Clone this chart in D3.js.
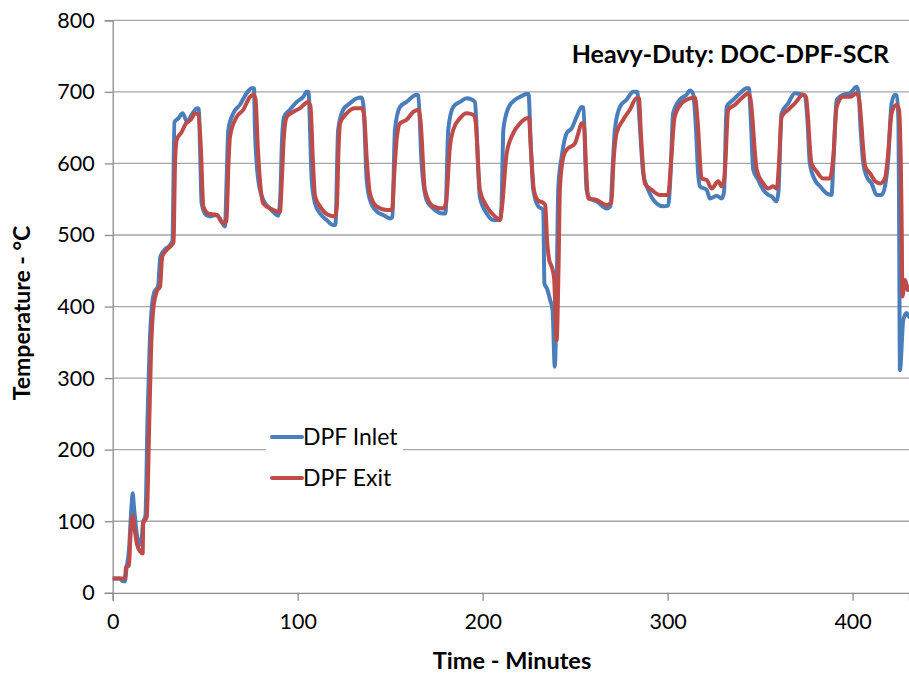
<!DOCTYPE html>
<html>
<head>
<meta charset="utf-8">
<script src="https://cdn.jsdelivr.net/npm/d3@7"></script>
<style>
  body { margin: 0; background: #fff; }
  svg { display: block; }
  text { font-family: Lato, "Open Sans", sans-serif; fill: #000; }
</style>
</head>
<body>
<svg id="chart" width="909" height="675"></svg>
<script>
// DPF inlet temperature trace (minutes, °C)
const inletMinutes = [0,3.9,5.0,6.6,7.5,8.8,9.9,10.8,11.5,12.9,14.4,15.6,16.4,17.7,18.8,19.9,21.0,22.6,24.5,25.8,28.0,31.0,32.3,33.4,35.5,37.8,40.3,42.7,45.7,46.6,47.2,48.1,50.4,52.6,56.2,58.9,60.7,61.6,62.5,65.2,68.8,72.4,75.1,76.4,76.9,78.7,81.4,85.0,87.7,89.5,90.7,91.4,92.6,95.8,99.5,103.0,104.9,105.8,107.6,109.4,112.1,115.7,119.2,120.4,121.9,124.6,128.3,131.9,134.6,135.6,137.3,139.1,142.7,146.3,149.9,151.2,152.6,155.3,158.9,164.3,165.2,167.0,169.7,173.3,178.7,179.9,181.4,184.1,187.7,191.4,194.9,195.8,198.5,202.2,205.7,209.4,210.2,211.2,213.8,217.5,220.2,223.8,224.8,226.1,227.4,230.1,232.8,233.4,234.8,236.5,237.8,239.0,239.9,240.9,242.7,245.4,248.1,250.8,253.5,254.5,256.2,258.0,261.6,267.0,269.1,270.4,271.5,274.2,277.8,281.4,283.6,284.8,286.8,289.5,294.1,297.6,300.3,301.5,303.0,306.6,310.3,312.1,313.7,315.3,316.5,317.5,321.1,322.9,326.5,329.2,330.5,331.9,335.5,339.1,342.7,343.9,345.0,346.3,349.0,351.7,354.4,356.2,358.9,359.9,361.6,365.2,368.8,371.5,374.2,375.6,376.9,379.6,382.4,386.0,388.6,389.6,391.4,394.9,398.6,402.2,403.2,404.3,405.8,407.6,410.3,413.0,415.7,417.5,419.1,421.1,422.9,423.8,424.8,425.2,425.6,427.4,429.2,430.5];
const inletTemps = [20,20,17,16,35,60,110,139,120,85,67,75,98,108,240,340,395,421,428,470,479,486,492,658,663,670,658,668,677,676,623,544,528,526,528,519,512,577,647,670,682,698,705,705,647,577,549,537,530,527,560,623,665,675,686,693,700,700,577,544,530,521,514,514,647,675,684,691,692,680,577,549,533,528,523,525,647,679,686,696,695,600,549,537,530,530,647,679,686,691,688,686,553,530,521,521,540,647,677,689,693,697,697,620,563,540,535,432,425,409,395,316,400,566,609,642,649,665,679,678,563,551,547,537,540,600,647,679,689,700,700,660,586,563,544,540,541,580,670,689,696,702,698,650,586,568,563,551,555,551,560,679,689,698,705,705,660,591,577,563,556,554,547,560,670,684,698,697,695,660,600,577,568,558,556,600,689,696,698,707,700,650,600,582,572,556,556,568,600,684,696,695,660,500,311,381,391,386];

// DPF exit temperature trace (minutes, °C)
const exitMinutes = [0,6.6,7.2,8.8,9.6,10.8,11.8,13.1,14.8,16.2,16.5,18.4,19.8,20.7,21.9,23.8,25.6,26.8,29.2,31.9,32.9,33.7,34.6,37.3,39.6,42.2,44.5,46.3,47.7,49.0,51.7,56.2,59.8,61.5,62.6,63.4,67.0,70.6,74.2,76.0,77.2,78.5,80.2,81.4,86.8,90.4,91.5,92.6,94.1,97.6,101.2,105.7,106.9,108.3,109.4,112.1,116.5,120.2,121.2,122.1,122.9,126.5,131.0,134.6,135.8,137.5,139.1,142.7,148.1,151.0,152.1,153.5,155.3,158.9,162.5,165.2,166.4,168.8,173.3,178.7,180.2,182.3,184.1,187.7,191.4,194.9,196.1,198.5,202.2,206.6,209.4,210.5,213.0,216.5,220.2,222.9,225.0,226.1,227.7,230.0,232.7,233.8,234.9,236.0,237.3,238.2,238.7,240.0,241.0,241.8,243.6,245.4,249.9,251.7,253.5,254.8,255.8,257.1,261.6,267.0,269.6,270.7,272.4,276.0,279.6,283.2,284.5,285.6,287.7,291.4,295.8,300.3,301.8,303.8,307.6,312.1,314.8,316.2,318.4,321.1,323.8,327.4,329.2,330.7,332.8,336.4,340.0,343.6,344.8,348.2,351.7,354.4,357.1,359.1,360.2,361.6,365.2,368.8,373.3,374.8,377.8,380.5,384.1,387.7,389.6,391.4,394.9,398.6,402.2,403.5,406.8,409.5,412.2,414.9,417.5,419.1,421.1,423.8,425.1,426.6,426.9,428.4,429.8,430.5];
const exitTemps = [20,20,36,38,80,108,90,68,58,55,97,106,241,335,395,421,428,470,479,486,490,600,633,644,656,661,670,668,620,540,530,528,516,520,600,637,665,675,693,696,690,620,560,544,535,532,580,640,665,672,677,686,680,600,554,540,528,526,540,620,656,670,677,677,670,600,558,540,535,535,580,633,656,661,672,675,660,563,540,537,545,623,647,663,670,668,660,563,540,526,521,540,614,642,656,662,664,620,563,548,545,542,490,465,456,447,437,353,450,566,609,619,628,642,656,655,600,551,549,542,545,600,642,661,675,691,691,640,572,563,556,556,600,665,684,691,692,660,579,577,565,575,568,580,675,682,691,698,690,591,572,565,568,565,600,665,675,684,696,693,600,589,579,579,610,679,693,693,698,690,596,586,575,572,579,610,670,682,675,500,414,437,423,428];

const seriesNames = ["DPF Inlet", "DPF Exit"];
const seriesColors = ["#4A7EBB", "#BE4B48"];
const yTickValues = [0, 100, 200, 300, 400, 500, 600, 700, 800];
const xTickValues = [0, 100, 200, 300, 400];
const chartTitle = "Heavy-Duty: DOC-DPF-SCR";
const xTitle = "Time - Minutes";
const yTitle = "Temperature - °C";

const svg = d3.select("#chart");
const W = 909, H = 675;
const plotLeft = 112.7, plotTop = 20.3, plotBottom = 592.8, plotRight = W;

const x = d3.scaleLinear().domain([0, 430.5]).range([plotLeft, plotRight]);
const y = d3.scaleLinear().domain([0, 800]).range([plotBottom, plotTop]);

// horizontal gridlines
svg.append("g").selectAll("line").data(yTickValues.filter(v => v > 0)).join("line")
  .attr("x1", plotLeft).attr("x2", plotRight)
  .attr("y1", d => y(d)).attr("y2", d => y(d))
  .attr("stroke", "#a6a6a6").attr("stroke-width", 1.3);

// y axis
const yAxis = svg.append("g").attr("transform", `translate(${plotLeft},0)`)
  .call(d3.axisLeft(y).tickValues(yTickValues).tickSize(8).tickPadding(10).tickFormat(d3.format("d")));
yAxis.select(".domain").attr("stroke", "#8c8c8c").attr("stroke-width", 1.3);
yAxis.selectAll(".tick line").attr("stroke", "#8c8c8c").attr("stroke-width", 1.3);
yAxis.selectAll(".tick text").attr("font-size", 21.5).attr("font-family", "Lato");

// x axis
const xAxis = svg.append("g").attr("transform", `translate(0,${plotBottom})`)
  .call(d3.axisBottom(x).tickValues(xTickValues).tickSize(8).tickPadding(13).tickFormat(d3.format("d")));
xAxis.select(".domain").attr("stroke", "#8c8c8c").attr("stroke-width", 1.3);
xAxis.selectAll(".tick line").attr("stroke", "#8c8c8c").attr("stroke-width", 1.3);
xAxis.selectAll(".tick text").attr("font-size", 21.5).attr("font-family", "Lato");

// temperature traces
const series = [
  { name: seriesNames[0], color: seriesColors[0], pts: inletMinutes.map((m, i) => [m, inletTemps[i]]) },
  { name: seriesNames[1], color: seriesColors[1], pts: exitMinutes.map((m, i) => [m, exitTemps[i]]) }
];
svg.append("clipPath").attr("id", "plotClip").append("rect")
  .attr("x", plotLeft).attr("y", 0).attr("width", plotRight - plotLeft).attr("height", plotBottom + 2);
const line = d3.line().x(d => x(d[0])).y(d => y(d[1])).curve(d3.curveMonotoneX);
svg.append("g").attr("clip-path", "url(#plotClip)").selectAll("path").data(series).join("path")
  .attr("d", d => line(d.pts))
  .attr("fill", "none").attr("stroke", d => d.color).attr("stroke-width", 4)
  .attr("stroke-linejoin", "round").attr("stroke-linecap", "round");

// legend
const lg = svg.append("g").attr("transform", "translate(266,418)");
lg.append("rect").attr("width", 137).attr("height", 80).attr("fill", "#fff");
series.forEach((s, i) => {
  const gy = 19 + i * 41;
  lg.append("line").attr("x1", 6).attr("x2", 36).attr("y1", gy).attr("y2", gy)
    .attr("stroke", s.color).attr("stroke-width", 4).attr("stroke-linecap", "round");
  lg.append("text").attr("x", 37).attr("y", gy).attr("dy", "0.36em")
    .attr("font-size", 23).text(s.name);
});

// titles
svg.append("text").attr("x", 889).attr("y", 63).attr("text-anchor", "end")
  .attr("font-size", 25).attr("font-weight", "bold").text(chartTitle);
svg.append("text").attr("x", 512).attr("y", 669).attr("text-anchor", "middle")
  .attr("font-size", 23.5).attr("font-weight", "bold").text(xTitle);
svg.append("text").attr("transform", "translate(30,313) rotate(-90)").attr("text-anchor", "middle")
  .attr("font-size", 23).attr("font-weight", "bold").text(yTitle);
</script>
</body>
</html>
